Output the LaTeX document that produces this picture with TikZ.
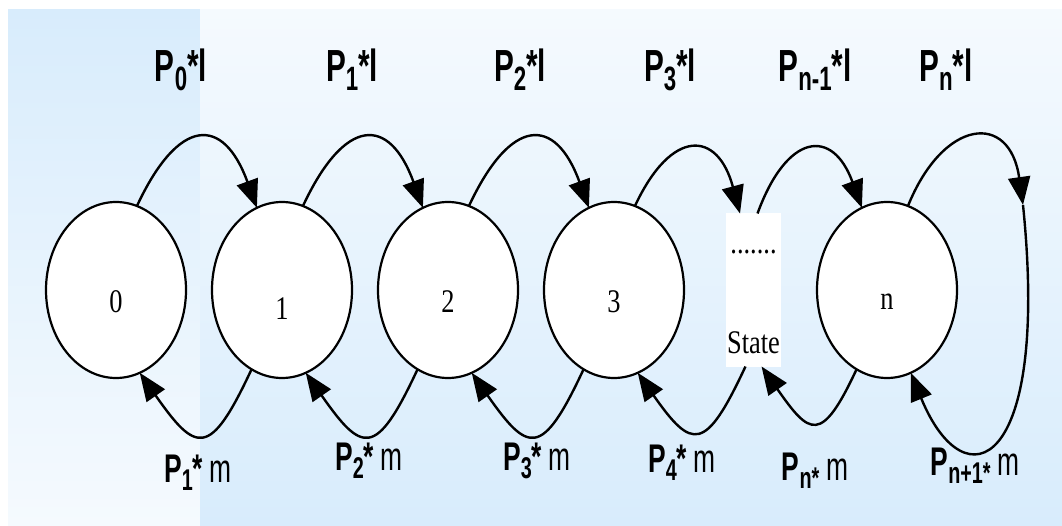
\documentclass[tikz,border=0pt]{standalone}
\usepackage{fontspec}
\usepackage{graphicx}
\usetikzlibrary{shapes.geometric,arrows.meta,positioning}
\newfontfamily\lblfont[FakeStretch=0.66]{Liberation Sans}
\newfontfamily\numfont[FakeStretch=0.8]{Liberation Serif}
\definecolor{bgblue}{RGB}{216,236,252}
\definecolor{bgpale}{RGB}{245,250,254}
\newcommand\lsub[1]{\raisebox{-0.2em}{\scalebox{0.75}{#1}}}
\tikzset{
  cstate/.style={ellipse, draw=black, line width=2.2pt, fill=white,
                 minimum width=140pt, minimum height=176pt,
                 inner sep=0pt, outer sep=0pt},
  gapbox/.style={rectangle, fill=white, minimum width=55pt,
                 minimum height=153pt, inner sep=0pt, outer sep=0pt},
  num/.style={font=\numfont\fontsize{33}{33}\selectfont, inner sep=0pt},
  arr/.style={-{Triangle[length=28pt,width=22pt]}, line width=2.4pt},
  toplbl/.style={font=\lblfont\bfseries\fontsize{45}{45}\selectfont,
                 anchor=base, inner sep=0pt},
  botlbl/.style={font=\lblfont\fontsize{40}{40}\selectfont,
                 anchor=base, inner sep=0pt},
}

\begin{document}
\begin{tikzpicture}[x=1pt, y=1pt]
    \useasboundingbox (0,0) rectangle (1062,525);
    \fill[white] (0,0) rectangle (1062,525);
    \shade[top color=bgblue, bottom color=bgpale] (8,0) rectangle (200,515);
    \shade[top color=bgpale, bottom color=bgblue] (200,0) rectangle (1062,515);

    % states
    \node[cstate] (c0) at (116,235) {};
    \node[cstate, right=26pt of c0] (c1) {};
    \node[cstate, right=26pt of c1] (c2) {};
    \node[cstate, right=26pt of c2] (c3) {};
    \node[gapbox, right=42pt of c3] (st) {};
    \node[cstate, right=36pt of st] (cn) {};

    \node[num] (t0) at ([yshift=-12pt]c0.center) {0};
    \node[num] (t1) at ([yshift=-19pt]c1.center) {1};
    \node[num] (t2) at ([yshift=-12pt]c2.center) {2};
    \node[num] (t3) at ([yshift=-12pt]c3.center) {3};
    \node[num] (tn) at ([yshift=-12pt]cn.center) {n};
    \node[num] (tdots) at ([yshift=38pt]st.center) {.......};
    \node[num] (tstate) at ([yshift=-53pt]st.center) {State};

    % upward moves
    \draw[arr] (c0.76) to[out=65, in=110, looseness=2.1] (c1.107);
    \draw[arr] (c1.76) to[out=65, in=110, looseness=2.1] (c2.107);
    \draw[arr] (c2.76) to[out=65, in=110, looseness=2.1] (c3.107);
    \draw[arr] (c3.76) to[out=65, in=105, looseness=2.1] (st.100);
    \draw[arr] (st.87) to[out=70, in=110, looseness=2.1] (cn.107);
    \coordinate (lp) at (1023,320);
    \draw[arr] (cn.76) to[out=68, in=98, looseness=2.1] (lp);
    \draw[arr] (lp) .. controls (1050,55) and (965,20) .. (cn.286);

    % downward moves
    \draw[arr] (c1.249) to[out=245, in=-55, looseness=2.25] (c0.286);
    \draw[arr] (c2.249) to[out=245, in=-55, looseness=2.25] (c1.286);
    \draw[arr] (c3.249) to[out=245, in=-55, looseness=2.25] (c2.286);
    \draw[arr] (st.264) to[out=245, in=-55, looseness=2.25] (c3.286);
    \draw[arr] (cn.249) to[out=245, in=-55, looseness=2.25] (st.276);

    % rates
    \node[toplbl] (l0) at (181,443) {P\lsub{0}*l};
    \node[toplbl] (l1) at (352,443) {P\lsub{1}*l};
    \node[toplbl] (l2) at (520,443) {P\lsub{2}*l};
    \node[toplbl] (l3) at (670,443) {P\lsub{3}*l};
    \node[toplbl] (ln1) at (815,443) {P\lsub{n-1}*l};
    \node[toplbl] (ln) at (946,443) {P\lsub{n}*l};
    \node[botlbl] (m1) at (198,43) {\textbf{P\lsub{1}*}\,m};
    \node[botlbl] (m2) at (369,55) {\textbf{P\lsub{2}*}\,m};
    \node[botlbl] (m3) at (537,55) {\textbf{P\lsub{3}*}\,m};
    \node[botlbl] (m4) at (682,53) {\textbf{P\lsub{4}*}\,m};
    \node[botlbl] (mn) at (815,45) {\textbf{P\lsub{n*}}\,m};
    \node[botlbl] (mn1) at (975,50) {\textbf{P\lsub{n+1*}}\,m};
\end{tikzpicture}
\end{document}
